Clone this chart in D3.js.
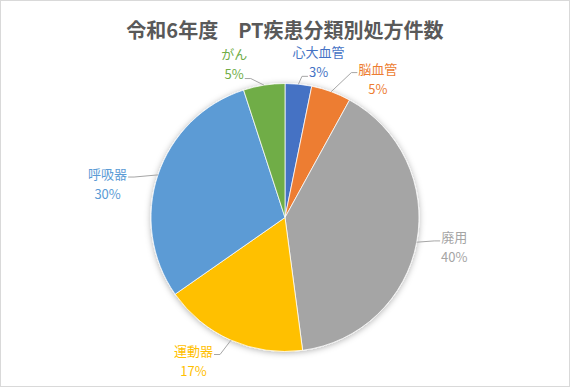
<!DOCTYPE html>
<html>
<head>
<meta charset="utf-8">
<script src="https://cdn.jsdelivr.net/npm/d3@7"></script>
<style>
  body { margin: 0; background: #fff; }
  svg text { font-family: "Noto Sans CJK JP", "Noto Sans", sans-serif; }
</style>
</head>
<body>
<div id="chart"></div>
<script>
// data
const title = "令和6年度　PT疾患分類別処方件数";
const categories = ["心大血管", "脳血管", "廃用", "運動器", "呼吸器", "がん"];
const shares = [3.2, 4.8, 39.9, 17.4, 29.7, 5.0];
const colors = ["#4472C4", "#ED7D31", "#A5A5A5", "#FFC000", "#5B9BD5", "#70AD47"];

// label nudges from the outer centroid (excel "best fit" moves them around)
const labelNudge = {
  "心大血管": [17, 8], "脳血管": [36, 16], "廃用": [7, -1],
  "運動器": [-25, -8], "呼吸器": [-21, 18], "がん": [-25, 9]
};

const width = 570, height = 388;
const cx = 285, cy = 217.5, r = 134;

const svg = d3.select('#chart').append('svg')
  .attr('width', width)
  .attr('height', height);

svg.append('rect')
  .attr('x', 0.5).attr('y', 0.5)
  .attr('width', width - 1).attr('height', 386)
  .attr('fill', '#fff')
  .attr('stroke', '#d9d9d9');

const defs = svg.append('defs');
defs.append('filter').attr('id', 'shadow')
  .attr('x', '-20%').attr('y', '-20%').attr('width', '140%').attr('height', '140%')
  .append('feDropShadow')
    .attr('dx', 0).attr('dy', 1)
    .attr('stdDeviation', 3)
    .attr('flood-color', '#000')
    .attr('flood-opacity', 0.3);

svg.append('text')
  .attr('x', cx).attr('y', 29)
  .attr('text-anchor', 'middle')
  .attr('dominant-baseline', 'central')
  .attr('fill', '#595959')
  .style('font-size', '20px')
  .style('font-weight', 'bold')
  .text(title);

const data = categories.map((c, i) => ({ name: c, value: shares[i], color: colors[i] }));
const total = d3.sum(shares);
const fmt = d3.format('.0%');

const pie = d3.pie().sort(null).value(d => d.value);
const arcs = pie(data);
const arc = d3.arc().innerRadius(0).outerRadius(r);
const outer = d3.arc().innerRadius(165).outerRadius(165);

const g = svg.append('g').attr('transform', `translate(${cx},${cy})`);

g.append('g').attr('filter', 'url(#shadow)')
  .selectAll('path')
  .data(arcs)
  .enter()
  .append('path')
    .attr('d', arc)
    .attr('fill', d => d.data.color)
    .attr('stroke', '#fff')
    .attr('stroke-width', 0.75);

const labels = g.selectAll('g.lbl')
  .data(arcs)
  .enter()
  .append('g')
    .attr('class', 'lbl')
    .each(function(d) {
      const c = outer.centroid(d);
      const n = labelNudge[d.data.name];
      d.lx = c[0] + n[0];
      d.ly = c[1] + n[1];
    });

labels.append('text')
  .attr('class', 'nm')
  .attr('x', d => d.lx).attr('y', d => d.ly - 10)
  .attr('text-anchor', 'middle')
  .attr('dominant-baseline', 'central')
  .attr('fill', d => d.data.color)
  .style('font-size', '13px')
  .text(d => d.data.name);

labels.append('text')
  .attr('class', 'pc')
  .attr('x', d => d.lx).attr('y', d => d.ly + 10)
  .attr('text-anchor', 'middle')
  .attr('dominant-baseline', 'central')
  .attr('fill', d => d.data.color)
  .style('font-size', '13px')
  .text(d => fmt(d.data.value / total));

// leader lines from the slice edge to the nearest text row
labels.each(function(d) {
  const sel = d3.select(this);
  const a = (d.startAngle + d.endAngle) / 2;
  const sx = Math.sin(a) * r, sy = -Math.cos(a) * r;
  const nmW = sel.select('.nm').node().getComputedTextLength();
  const pcW = sel.select('.pc').node().getComputedTextLength();
  const boxBottom = d.ly + 17;
  let ex, ey, w;
  if (boxBottom < sy) { w = pcW; ey = d.ly + 15; }
  else { w = nmW; ey = d.ly - 6; }
  const dir = d.lx > sx ? 1 : -1;
  ex = d.lx - dir * (w / 2 + 1);
  sel.insert('polyline', 'text')
    .attr('points', [[sx, sy], [ex - dir * 6, ey], [ex, ey]].map(p => p.join(',')).join(' '))
    .attr('fill', 'none')
    .attr('stroke', '#a6a6a6')
    .attr('stroke-width', 1);
});
</script>
</body>
</html>
